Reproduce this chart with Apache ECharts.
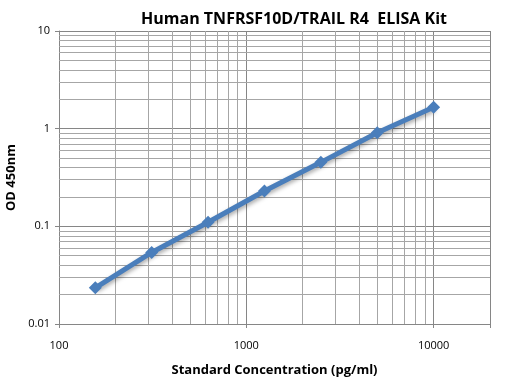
<!DOCTYPE html>
<html>
<head>
<meta charset="utf-8">
<script src="https://cdn.jsdelivr.net/npm/echarts@6/dist/echarts.min.js"></script>
<style>
    html, body { margin: 0; padding: 0; background: #fff; }
    #chart { width: 505px; height: 377px; }
</style>
</head>
<body>
<div id="chart"></div>
<script>
// standard curve values
var conc = [156.25, 312.5, 625, 1250, 2500, 5000, 10000];
var od = [0.0235, 0.054, 0.11, 0.23, 0.452, 0.91, 1.66];

// minor grid positions (2..9 in each decade)
var xMinor = [200, 300, 400, 500, 600, 700, 800, 900,
    2000, 3000, 4000, 5000, 6000, 7000, 8000, 9000];
var yMinor = [0.02, 0.03, 0.04, 0.05, 0.06, 0.07, 0.08, 0.09,
    0.2, 0.3, 0.4, 0.5, 0.6, 0.7, 0.8, 0.9,
    2, 3, 4, 5, 6, 7, 8, 9];
var xLabels = [100, 1000, 10000];

var myChart = echarts.init(document.getElementById('chart'));
var font = 'Open Sans';

var gridLines = [];
xMinor.forEach(function(v) { gridLines.push({ xAxis: v }); });
yMinor.forEach(function(v) { gridLines.push({ yAxis: v }); });

var option = {
    animation: false,
    title: {
        text: 'Human TNFRSF10D/TRAIL R4  ELISA Kit',
        left: 289,
        top: 6,
        textAlign: 'center',
        textStyle: { fontFamily: font, fontSize: 16, fontWeight: 'bold', color: '#000' }
    },
    grid: { left: 59, right: 15, top: 31, bottom: 53, outerBoundsMode: 'none', containLabel: false },
    xAxis: {
        type: 'log',
        logBase: 10,
        min: 100,
        max: 20000,
        name: 'Standard Concentration (pg/ml)',
        nameLocation: 'middle',
        nameGap: 40,
        nameTextStyle: { fontFamily: font, fontSize: 13, fontWeight: 'bold', color: '#000' },
        axisLine: { lineStyle: { color: '#868686' } },
        axisTick: { show: true, length: 4, lineStyle: { color: '#868686' } },
        axisLabel: {
            fontFamily: font, fontSize: 11, color: '#000', margin: 16,
            formatter: function(v) {
                var r = Math.round(v);
                return xLabels.indexOf(r) >= 0 ? String(r) : '';
            }
        },
        splitLine: { show: true, lineStyle: { color: '#868686', width: 1 } }
    },
    yAxis: {
        type: 'log',
        logBase: 10,
        min: 0.01,
        max: 10,
        name: 'OD 450nm',
        nameLocation: 'middle',
        nameGap: 36,
        nameTextStyle: { fontFamily: font, fontSize: 13, fontWeight: 'bold', color: '#000' },
        axisLine: { show: true, lineStyle: { color: '#868686' } },
        axisTick: { show: true, length: 4, lineStyle: { color: '#868686' } },
        axisLabel: { fontFamily: font, fontSize: 11, color: '#000', margin: 9 },
        splitLine: { show: true, lineStyle: { color: '#868686', width: 1 } }
    },
    series: [{
        type: 'line',
        z: 1,
        data: [],
        markLine: {
            silent: true,
            symbol: 'none',
            label: { show: false },
            lineStyle: { color: '#a6a6a6', width: 1, type: 'solid' },
            data: gridLines
        }
    }, {
        type: 'line',
        z: 5,
        data: conc.map(function(c, i) { return [c, od[i]]; }),
        symbol: 'diamond',
        symbolSize: 13,
        itemStyle: { color: '#4a7ebb' },
        lineStyle: {
            color: '#4a7ebb',
            width: 5,
            shadowColor: 'rgba(0,0,0,0.35)',
            shadowBlur: 4,
            shadowOffsetX: 1,
            shadowOffsetY: 2
        }
    }]
};
myChart.setOption(option);
</script>
</body>
</html>
